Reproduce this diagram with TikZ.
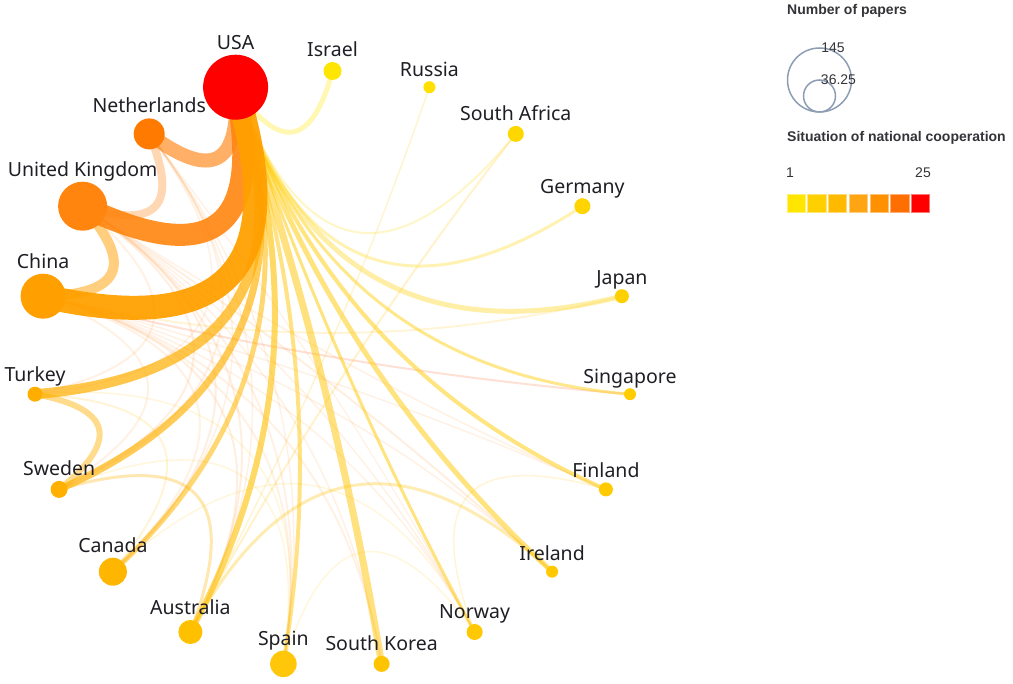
\documentclass[tikz,border=0pt]{standalone}
\usepackage{fontspec}
\setmainfont{Noto Sans}
\newfontfamily\legfont{Liberation Sans}
\usetikzlibrary{calc}
\pgfdeclarelayer{edges}
\pgfsetlayers{edges,main}
\definecolor{cUSA}{HTML}{FF0000}
\definecolor{cNL}{HTML}{FF7A00}
\definecolor{cUK}{HTML}{FF850F}
\definecolor{cCN}{HTML}{FFA000}
\definecolor{cTR}{HTML}{FFAE00}
\definecolor{cSE}{HTML}{FFB000}
\definecolor{cCA}{HTML}{FFB600}
\definecolor{cAU}{HTML}{FFC000}
\definecolor{cES}{HTML}{FFC60A}
\definecolor{cKR}{HTML}{FFC400}
\definecolor{cNO}{HTML}{FFC800}
\definecolor{cIE}{HTML}{FFC800}
\definecolor{cFI}{HTML}{FFCA00}
\definecolor{cSG}{HTML}{FFCC00}
\definecolor{cJP}{HTML}{FFD000}
\definecolor{cDE}{HTML}{FFD400}
\definecolor{cZA}{HTML}{FFD700}
\definecolor{cRU}{HTML}{FFE000}
\definecolor{cIL}{HTML}{FFE600}
\definecolor{labeltxt}{HTML}{1E1E24}
\definecolor{legtxt}{HTML}{333338}
\definecolor{legcirc}{HTML}{8C9DB3}
\definecolor{s1}{HTML}{FFE600}
\definecolor{s2}{HTML}{FFD000}
\definecolor{s3}{HTML}{FFBA00}
\definecolor{s4}{HTML}{FFA514}
\definecolor{s5}{HTML}{FF9000}
\definecolor{s6}{HTML}{FF6E00}
\definecolor{s7}{HTML}{FF0000}
\definecolor{faintY}{HTML}{FFC000}
\definecolor{faintO}{HTML}{FF9A40}
\definecolor{pinkish}{HTML}{FF7040}
% link: #1 node a, #2 index a, #3 node b, #4 index b, #5 width, #6 style
\newcommand\lnk[6]{%
  \pgfmathsetmacro\lnkd{min(abs(#2-#4),19-abs(#2-#4))}%
  \pgfmathsetmacro\lnkf{min(1,1.12*sin(min(\lnkd*360/19,90)))}%
  \path ($(#1.center)!0.5!(#3.center)$) coordinate (lnkm);
  \path ($(lnkm)!\lnkf!(O)$) coordinate (lnkq);
  \draw[#6, line width=#5pt] (#1.center) .. controls ($(#1.center)!0.6667!(lnkq)$) and ($(#3.center)!0.6667!(lnkq)$) .. (#3.center);
}
\begin{document}
\begin{tikzpicture}[x=1pt,y=-1pt,
  dotn/.style={circle, inner sep=0pt, outer sep=0pt, draw=none, minimum size=#1},
  lbl/.style={font=\fontsize{19.5}{22}\selectfont, text=labeltxt, inner sep=0pt, anchor=base},
  legt/.style={font=\legfont\bfseries\fontsize{14}{16}\selectfont, text=legtxt, inner sep=0pt, anchor=base west},
  legn/.style={font=\legfont\fontsize{14}{16}\selectfont, text=legtxt, inner sep=0pt, anchor=base},
  legc/.style={circle, draw=legcirc, line width=1.5pt, inner sep=0pt, minimum size=#1},
  sq/.style={draw=#1!55!white, line width=0.8pt, fill=#1, minimum width=18.3pt, minimum height=17.7pt, inner sep=0pt, anchor=north west},
  ed/.style={draw=#1, line cap=round}
]
\useasboundingbox (0,0) rectangle (1013,684);
\coordinate (O) at (332.5,369.5);

% nodes (index k: angle -90 + k*360/19)
\node[dotn=18pt,  fill=cIL]  (isr) at (332.5,71.0) {};
\node[dotn=12pt,  fill=cRU]  (rus) at (429.4,87.2) {};
\node[dotn=16pt,  fill=cZA]  (zaf) at (515.8,133.9) {};
\node[dotn=16pt,  fill=cDE]  (deu) at (582.4,206.2) {};
\node[dotn=14pt,  fill=cJP]  (jpn) at (621.9,296.2) {};
\node[dotn=12pt,  fill=cSG]  (sgp) at (630.0,394.2) {};
\node[dotn=14pt,  fill=cFI]  (fin) at (605.9,489.4) {};
\node[dotn=12pt,  fill=cIE]  (irl) at (552.1,571.7) {};
\node[dotn=16pt,  fill=cNO]  (nor) at (474.6,632.0) {};
\node[dotn=16pt,  fill=cKR]  (kor) at (381.6,663.9) {};
\node[dotn=26.5pt,fill=cES]  (esp) at (283.4,663.9) {};
\node[dotn=24pt,  fill=cAU]  (aus) at (190.4,632.0) {};
\node[dotn=28pt,  fill=cCA]  (can) at (112.9,571.7) {};
\node[dotn=17pt,  fill=cSE]  (swe) at (59.1,489.4) {};
\node[dotn=15pt,  fill=cTR]  (tur) at (35.0,394.2) {};
\node[dotn=45pt,  fill=cCN]  (chn) at (43.1,296.2) {};
\node[dotn=49pt,  fill=cUK]  (gbr) at (82.6,206.2) {};
\node[dotn=31pt,  fill=cNL]  (nld) at (149.2,133.9) {};
\node[dotn=65pt,  fill=cUSA] (usa) at (235.6,87.2) {};

% labels
\node[lbl] (isr-l) at ([yshift=5pt]isr.north) {Israel};
\node[lbl] (rus-l) at ([yshift=5pt]rus.north) {Russia};
\node[lbl] (zaf-l) at ([yshift=5pt]zaf.north) {South Africa};
\node[lbl] (deu-l) at ([yshift=5pt]deu.north) {Germany};
\node[lbl] (jpn-l) at ([yshift=5pt]jpn.north) {Japan};
\node[lbl] (sgp-l) at ([yshift=5pt]sgp.north) {Singapore};
\node[lbl] (fin-l) at ([yshift=5pt]fin.north) {Finland};
\node[lbl] (irl-l) at ([yshift=5pt]irl.north) {Ireland};
\node[lbl] (nor-l) at ([yshift=5pt]nor.north) {Norway};
\node[lbl] (kor-l) at ([yshift=5pt]kor.north) {South Korea};
\node[lbl] (esp-l) at ([yshift=5pt]esp.north) {Spain};
\node[lbl] (aus-l) at ([yshift=5pt]aus.north) {Australia};
\node[lbl] (can-l) at ([yshift=5pt]can.north) {Canada};
\node[lbl] (swe-l) at ([yshift=5pt]swe.north) {Sweden};
\node[lbl] (tur-l) at ([yshift=5pt]tur.north) {Turkey};
\node[lbl] (chn-l) at ([yshift=5.5pt]chn.north) {China};
\node[lbl] (gbr-l) at ([yshift=5.5pt]gbr.north) {United Kingdom};
\node[lbl] (nld-l) at ([yshift=5.5pt]nld.north) {Netherlands};
\node[lbl] (usa-l) at ([yshift=5.5pt]usa.north) {USA};

\begin{pgfonlayer}{edges}
% faint web
\lnk{chn}{15}{swe}{13}{2}{ed=faintO, draw opacity=0.14}
\lnk{chn}{15}{can}{12}{2}{ed=faintO, draw opacity=0.14}
\lnk{chn}{15}{aus}{11}{2}{ed=faintO, draw opacity=0.16}
\lnk{chn}{15}{esp}{10}{2}{ed=faintO, draw opacity=0.14}
\lnk{chn}{15}{kor}{9}{2}{ed=faintO, draw opacity=0.14}
\lnk{chn}{15}{nor}{8}{1.5}{ed=faintO, draw opacity=0.14}
\lnk{chn}{15}{irl}{7}{1.5}{ed=faintO, draw opacity=0.14}
\lnk{chn}{15}{fin}{6}{1.5}{ed=faintO, draw opacity=0.14}
\lnk{chn}{15}{jpn}{4}{2}{ed=faintY, draw opacity=0.16}
\lnk{chn}{15}{sgp}{5}{2}{ed=pinkish, draw opacity=0.22}
\lnk{gbr}{16}{tur}{14}{2}{ed=faintO, draw opacity=0.14}
\lnk{gbr}{16}{swe}{13}{2}{ed=faintO, draw opacity=0.16}
\lnk{gbr}{16}{can}{12}{2}{ed=faintO, draw opacity=0.16}
\lnk{gbr}{16}{aus}{11}{2}{ed=faintO, draw opacity=0.16}
\lnk{gbr}{16}{esp}{10}{2}{ed=faintO, draw opacity=0.14}
\lnk{gbr}{16}{kor}{9}{1.5}{ed=faintO, draw opacity=0.14}
\lnk{gbr}{16}{nor}{8}{1.5}{ed=faintO, draw opacity=0.14}
\lnk{gbr}{16}{irl}{7}{2}{ed=faintO, draw opacity=0.16}
\lnk{gbr}{16}{fin}{6}{1.5}{ed=faintO, draw opacity=0.14}
\lnk{nld}{17}{tur}{14}{1.5}{ed=faintO, draw opacity=0.14}
\lnk{nld}{17}{swe}{13}{2}{ed=faintO, draw opacity=0.14}
\lnk{nld}{17}{can}{12}{1.5}{ed=faintO, draw opacity=0.14}
\lnk{nld}{17}{aus}{11}{1.5}{ed=faintO, draw opacity=0.14}
\lnk{nld}{17}{esp}{10}{1.5}{ed=faintO, draw opacity=0.14}
\lnk{nld}{17}{nor}{8}{1.5}{ed=faintO, draw opacity=0.12}
\lnk{tur}{14}{can}{12}{2}{ed=faintY, draw opacity=0.16}
\lnk{tur}{14}{esp}{10}{1.5}{ed=faintY, draw opacity=0.14}
\lnk{swe}{13}{esp}{10}{1.5}{ed=faintY, draw opacity=0.14}
\lnk{can}{12}{nor}{8}{1.5}{ed=faintY, draw opacity=0.14}
\lnk{esp}{10}{nor}{8}{1.5}{ed=faintY, draw opacity=0.14}
\lnk{fin}{6}{nor}{8}{1.5}{ed=faintY, draw opacity=0.16}
\lnk{zaf}{2}{aus}{11}{2}{ed=faintY, draw opacity=0.2}
\lnk{rus}{1}{aus}{11}{1.5}{ed=faintY, draw opacity=0.18}
\lnk{swe}{13}{aus}{11}{3}{ed=cSE, draw opacity=0.3}
\lnk{aus}{11}{irl}{7}{3}{ed=cAU, draw opacity=0.3}
% USA links
\lnk{usa}{18}{zaf}{2}{2}{ed=cZA, draw opacity=0.22}
\lnk{usa}{18}{deu}{3}{3}{ed=cDE, draw opacity=0.3}
\lnk{usa}{18}{jpn}{4}{5}{ed=cJP, draw opacity=0.35}
\lnk{usa}{18}{sgp}{5}{3}{ed=cSG, draw opacity=0.45}
\lnk{usa}{18}{fin}{6}{4}{ed=cFI, draw opacity=0.5}
\lnk{usa}{18}{irl}{7}{5}{ed=cIE, draw opacity=0.5}
\lnk{usa}{18}{nor}{8}{3}{ed=cNO, draw opacity=0.5}
\lnk{usa}{18}{kor}{9}{7}{ed=cKR, draw opacity=0.5}
\lnk{usa}{18}{esp}{10}{4}{ed=cES, draw opacity=0.5}
\lnk{usa}{18}{aus}{11}{6}{ed=cAU, draw opacity=0.6}
\lnk{usa}{18}{can}{12}{5}{ed=cCA, draw opacity=0.55}
\lnk{usa}{18}{swe}{13}{7}{ed=cSE, draw opacity=0.65}
\lnk{usa}{18}{tur}{14}{10}{ed=cTR, draw opacity=0.7}
\lnk{tur}{14}{swe}{13}{6}{ed=cSE, draw opacity=0.45}
\lnk{usa}{18}{isr}{0}{5}{ed=cIL, draw opacity=0.3}
\lnk{nld}{17}{gbr}{16}{8}{ed=faintO, draw opacity=0.4}
\lnk{gbr}{16}{chn}{15}{10}{ed=cCN, draw opacity=0.5}
\lnk{usa}{18}{nld}{17}{14}{ed=cNL, draw opacity=0.6}
\lnk{usa}{18}{gbr}{16}{22}{ed=cUK, draw opacity=0.9}
\lnk{usa}{18}{chn}{15}{24}{ed=cCN, draw opacity=0.95}
\end{pgfonlayer}

% legend
\node[legt] (leg1) at (787,15) {Number of papers};
\node[legc=64pt] (bigc) at (819.5,80) {};
\node[legc=32pt] (smallc) at (819.5,96) {};
\node[legn] (n145) at (833,52.7) {145};
\node[legn] (n3625) at (838.5,85) {36.25};
\node[legt] (leg2) at (787,141.7) {Situation of national cooperation};
\node[legn, anchor=base west] (lo) at (786,177.7) {1};
\node[legn, anchor=base east] (hi) at (931,177.7) {25};
\node[sq=s1] (q1) at (786.7,194) {};
\node[sq=s2] (q2) at (807.4,194) {};
\node[sq=s3] (q3) at (828.1,194) {};
\node[sq=s4] (q4) at (848.8,194) {};
\node[sq=s5] (q5) at (869.5,194) {};
\node[sq=s6] (q6) at (890.2,194) {};
\node[sq=s7] (q7) at (910.9,194) {};
\end{tikzpicture}
\end{document}
